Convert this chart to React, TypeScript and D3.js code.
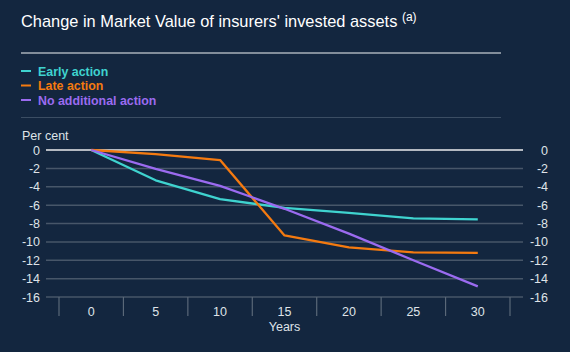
import { useEffect, useRef } from 'react'
import * as d3 from 'd3'

const years = [0, 5, 10, 15, 20, 25, 30]
const earlyAction = [0, -3.3, -5.35, -6.3, -6.85, -7.45, -7.55]
const lateAction = [0, -0.45, -1.1, -9.3, -10.6, -11.15, -11.2]
const noAdditional = [0, -2.05, -3.9, -6.4, -9.1, -12.0, -14.85]
const yTicks = [0, -2, -4, -6, -8, -10, -12, -14, -16]

const seriesNames = ['Early action', 'Late action', 'No additional action']
const seriesColors = ['#3fd3cf', '#f47a10', '#9b6bf0']

const W = 570
const H = 352

export default function App() {
  const svgRef = useRef<SVGSVGElement>(null)

  useEffect(() => {
    if (!svgRef.current) return
    const svg = d3.select(svgRef.current)
    svg.selectAll('*').remove()

    svg.append('rect').attr('width', W).attr('height', H).attr('fill', '#13263f')

    const font = 'Liberation Sans, Arial, sans-serif'

    // Title
    const title = svg.append('text')
      .attr('x', 21)
      .attr('y', 27)
      .style('font-family', font)
      .style('font-size', '16.4px')
      .style('fill', '#ffffff')
    title.append('tspan').text("Change in Market Value of insurers' invested assets ")
    title.append('tspan')
      .attr('dy', -6)
      .style('font-size', '12px')
      .text('(a)')

    svg.append('line')
      .attr('x1', 21).attr('x2', 501).attr('y1', 53).attr('y2', 53)
      .attr('stroke', '#a9b0ba').attr('stroke-width', 1.5)
    svg.append('line')
      .attr('x1', 21).attr('x2', 501).attr('y1', 117.5).attr('y2', 117.5)
      .attr('stroke', '#3b4d63').attr('stroke-width', 1)

    // Legend
    seriesNames.forEach((name, i) => {
      const y = 71 + i * 14.5
      svg.append('line')
        .attr('x1', 21).attr('x2', 31).attr('y1', y).attr('y2', y)
        .attr('stroke', seriesColors[i]).attr('stroke-width', 2)
      svg.append('text')
        .attr('x', 38).attr('y', y + 4.5)
        .style('font-family', font)
        .style('font-size', '12.4px')
        .style('font-weight', 'bold')
        .style('fill', seriesColors[i])
        .text(name)
    })

    const x = d3.scaleBand<number>()
      .domain(years)
      .range([59, 510])
    const y = d3.scaleLinear().domain([0, -16]).range([150, 297])

    // Grid
    svg.append('g')
      .selectAll('line')
      .data(yTicks)
      .enter()
      .append('line')
      .attr('x1', 46).attr('x2', 523)
      .attr('y1', d => y(d)).attr('y2', d => y(d))
      .attr('stroke', d => d === 0 ? '#b4b9c1' : '#475669')
      .attr('stroke-width', d => d === 0 ? 2 : 1.5)

    // Y labels left and right
    const yLabelStyle = (sel: d3.Selection<SVGTextElement, number, SVGGElement, unknown>) =>
      sel.attr('y', d => y(d) + 4.5)
        .style('font-family', font)
        .style('font-size', '12.5px')
        .style('fill', '#dfe3e8')
        .text(d => String(d))

    svg.append('g').selectAll('text').data(yTicks).enter().append('text')
      .attr('x', 40).attr('text-anchor', 'end')
      .call(yLabelStyle)
    svg.append('g').selectAll('text').data(yTicks).enter().append('text')
      .attr('x', 548).attr('text-anchor', 'end')
      .call(yLabelStyle)

    svg.append('text')
      .attr('x', 22).attr('y', 140)
      .style('font-family', font)
      .style('font-size', '12.5px')
      .style('fill', '#dfe3e8')
      .text('Per cent')

    // X separators
    const seps = years.map(d => x(d) as number).concat([x.range()[1]])
    svg.append('g').selectAll('line').data(seps).enter().append('line')
      .attr('x1', d => d).attr('x2', d => d)
      .attr('y1', 297).attr('y2', 316)
      .attr('stroke', '#5a6878').attr('stroke-width', 1.2)

    svg.append('g').selectAll('text').data(years).enter().append('text')
      .attr('x', d => (x(d) as number) + x.bandwidth() / 2)
      .attr('y', 316)
      .attr('text-anchor', 'middle')
      .style('font-family', font)
      .style('font-size', '12.5px')
      .style('fill', '#dfe3e8')
      .text(d => d)

    svg.append('text')
      .attr('x', x(15)! + x.bandwidth() / 2)
      .attr('y', 331)
      .attr('text-anchor', 'middle')
      .style('font-family', font)
      .style('font-size', '12.5px')
      .style('fill', '#dfe3e8')
      .text('Years')

    // Lines
    const line = d3.line<number>()
      .x((_, i) => (x(years[i]) as number) + x.bandwidth() / 2)
      .y(d => y(d))

    const all = [earlyAction, lateAction, noAdditional]
    all.forEach((vals, i) => {
      svg.append('path')
        .attr('d', line(vals))
        .attr('fill', 'none')
        .attr('stroke', seriesColors[i])
        .attr('stroke-width', 2.3)
        .attr('stroke-linejoin', 'round')
    })
  }, [])

  return (
    <svg
      ref={svgRef}
      width={W}
      height={H}
      style={{ display: 'block', position: 'fixed', left: 0, top: 0 }}
    />
  )
}
